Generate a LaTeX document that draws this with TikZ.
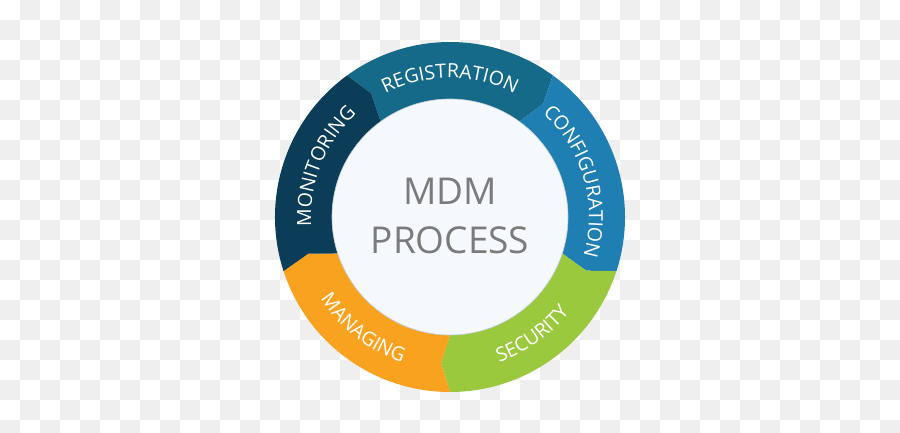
\documentclass[tikz,border=0pt]{standalone}
\usepackage{fontspec}
\setmainfont{Open Sans}
\newfontfamily\ringfont[LetterSpace=5]{Open Sans}
\usetikzlibrary{decorations.text}

\definecolor{checkgray}{HTML}{EFEFEF}
\definecolor{regcol}{HTML}{166A89}
\definecolor{confcol}{HTML}{1F7FB3}
\definecolor{seccol}{HTML}{9BC93E}
\definecolor{mancol}{HTML}{F9A21F}
\definecolor{moncol}{HTML}{0B3C58}
\definecolor{corefill}{HTML}{F5F9FD}
\definecolor{coreline}{HTML}{BCCAD6}
\definecolor{titlegray}{HTML}{7B7B7B}

\newcommand\Ro{175}    % outer radius
\newcommand\Ri{118}    % inner radius
\newcommand\Rm{146.5}  % radius of the arrow tips
\newcommand\tipang{3.5}

% one ring segment, from angle #1 clockwise over 72 degrees
\newcommand\ringseg[2]{%
  \fill[#2] (#1:\Ro) arc[start angle=#1, end angle=#1-72, radius=\Ro]
    -- (#1-72-\tipang:\Rm) -- (#1-72:\Ri)
    arc[start angle=#1-72, end angle=#1, radius=\Ri]
    -- (#1-\tipang:\Rm) -- cycle;}

% white label along an arc
\newcommand\ringlabel[4]{%
  \path[decorate, decoration={text along path, text align=center,
      text={|\ringfont\fontsize{19.5}{24}\selectfont\color{white}|#4}}]
    (#1:#3) arc[start angle=#1, end angle=#2, radius=#3];}

\tikzset{
  core/.style={circle, fill=corefill, draw=coreline, line width=0.6pt, minimum size=236pt, inner sep=0pt},
  title/.style={align=center, text=titlegray, font=\fontsize{37}{49}\selectfont},
}

\begin{document}
\begin{tikzpicture}[x=1pt, y=1pt]
    \useasboundingbox (-450,-215) rectangle (450,217);

    \begin{scope}   % checkered background
        \clip (-450,-215) rectangle (450,217);
        \fill[white] (-450,-215) rectangle (450,217);
        \foreach \j in {0,...,21}
            \foreach \k in {0,...,22}
                \fill[checkgray] ({40*\k+20*mod(\j+1,2)-450},{217-20*\j}) rectangle ++(20,-20);
    \end{scope}

    \ringseg{126}{regcol}   % ring segments
    \ringseg{54}{confcol}
    \ringseg{-18}{seccol}
    \ringseg{-90}{mancol}
    \ringseg{-162}{moncol}

    \ringlabel{130}{50}{139}{REGISTRATION}   % labels
    \ringlabel{56}{-24}{139}{CONFIGURATION}
    \ringlabel{-95}{-15}{153}{SECURITY}
    \ringlabel{-168}{-88}{153}{MANAGING}
    \ringlabel{198}{118}{139}{MONITORING}

    \node[core] (core) at (0,0) {};
    \node[title] (title) at (0,1) {MDM\\PROCESS};
\end{tikzpicture}
\end{document}
